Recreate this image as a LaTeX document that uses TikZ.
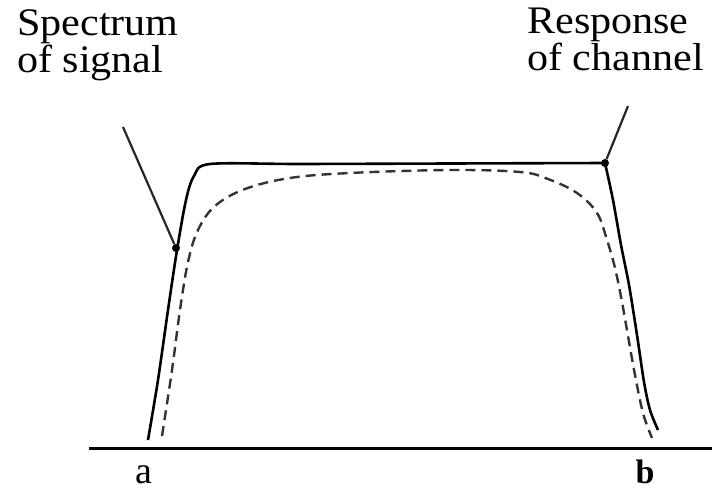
\documentclass[tikz,border=0pt]{standalone}
\usepackage{fontspec}
\setmainfont{Liberation Serif}
\newfontfamily\lblfont[FakeStretch=1.08]{Liberation Serif}
\begin{document}
\begin{tikzpicture}[x=1pt,y=-1pt,
  lbl/.style={anchor=base west,inner sep=0pt,font=\lblfont\fontsize{39}{34}\selectfont,align=left},
  curve/.style={line width=2.6pt,line join=round},
  dsh/.style={line width=2.4pt,dash pattern=on 10pt off 6pt,gray!40!black},
  dotn/.style={circle,fill=black,inner sep=0pt,minimum size=8pt},
  ptr/.style={line width=2.2pt,gray!30!black}]
\useasboundingbox (0,0) rectangle (712,490);
\fill[white] (0,0) rectangle (712,490);
% labels
\node[lbl] (spec) at (17,72) {Spectrum\\of signal};
\node[lbl] (resp) at (527,70) {Response\\of channel};
\node[anchor=base,inner sep=0pt,font=\fontsize{38}{38}\selectfont] (a) at (144,483) {a};
\node[anchor=base,inner sep=0pt,font=\fontsize{34}{34}\selectfont\bfseries] (b) at (645,483) {b};
% axis
\coordinate (ax0) at (89,448);
\coordinate (ax1) at (712,448);
\draw[line width=3pt] (ax0) -- (ax1);
% dashed spectrum
\draw[dsh] plot[smooth,tension=0.6] coordinates {(162,436) (172,370) (180,310) (188,262) (198,230) (215,206) (245,189) (290,178) (350,173) (450,170) (520,172) (548,179) (577,193) (597,213) (607,240) (615,268) (622,302) (628,336) (635,375) (643,413) (652,438)};
% solid channel response
\draw[curve] plot[smooth,tension=0.5] coordinates {(148,440) (158,380) (168,310) (177,250) (186,200) (194,176) (210,164) (300,164) (450,163.5) (605,163)};
\draw[curve] plot[smooth,tension=0.5] coordinates {(605,163) (613,200) (621,245) (629,285) (637,335) (644,382) (650,410) (658,430)};
% markers and pointers
\node[dotn] (d1) at (176,248) {};
\node[dotn] (d2) at (605,163) {};
\coordinate (p1) at (123,127);
\coordinate (p2) at (628,106);
\draw[ptr] (p1) -- (d1);
\draw[ptr] (p2) -- (d2);
\end{tikzpicture}
\end{document}
